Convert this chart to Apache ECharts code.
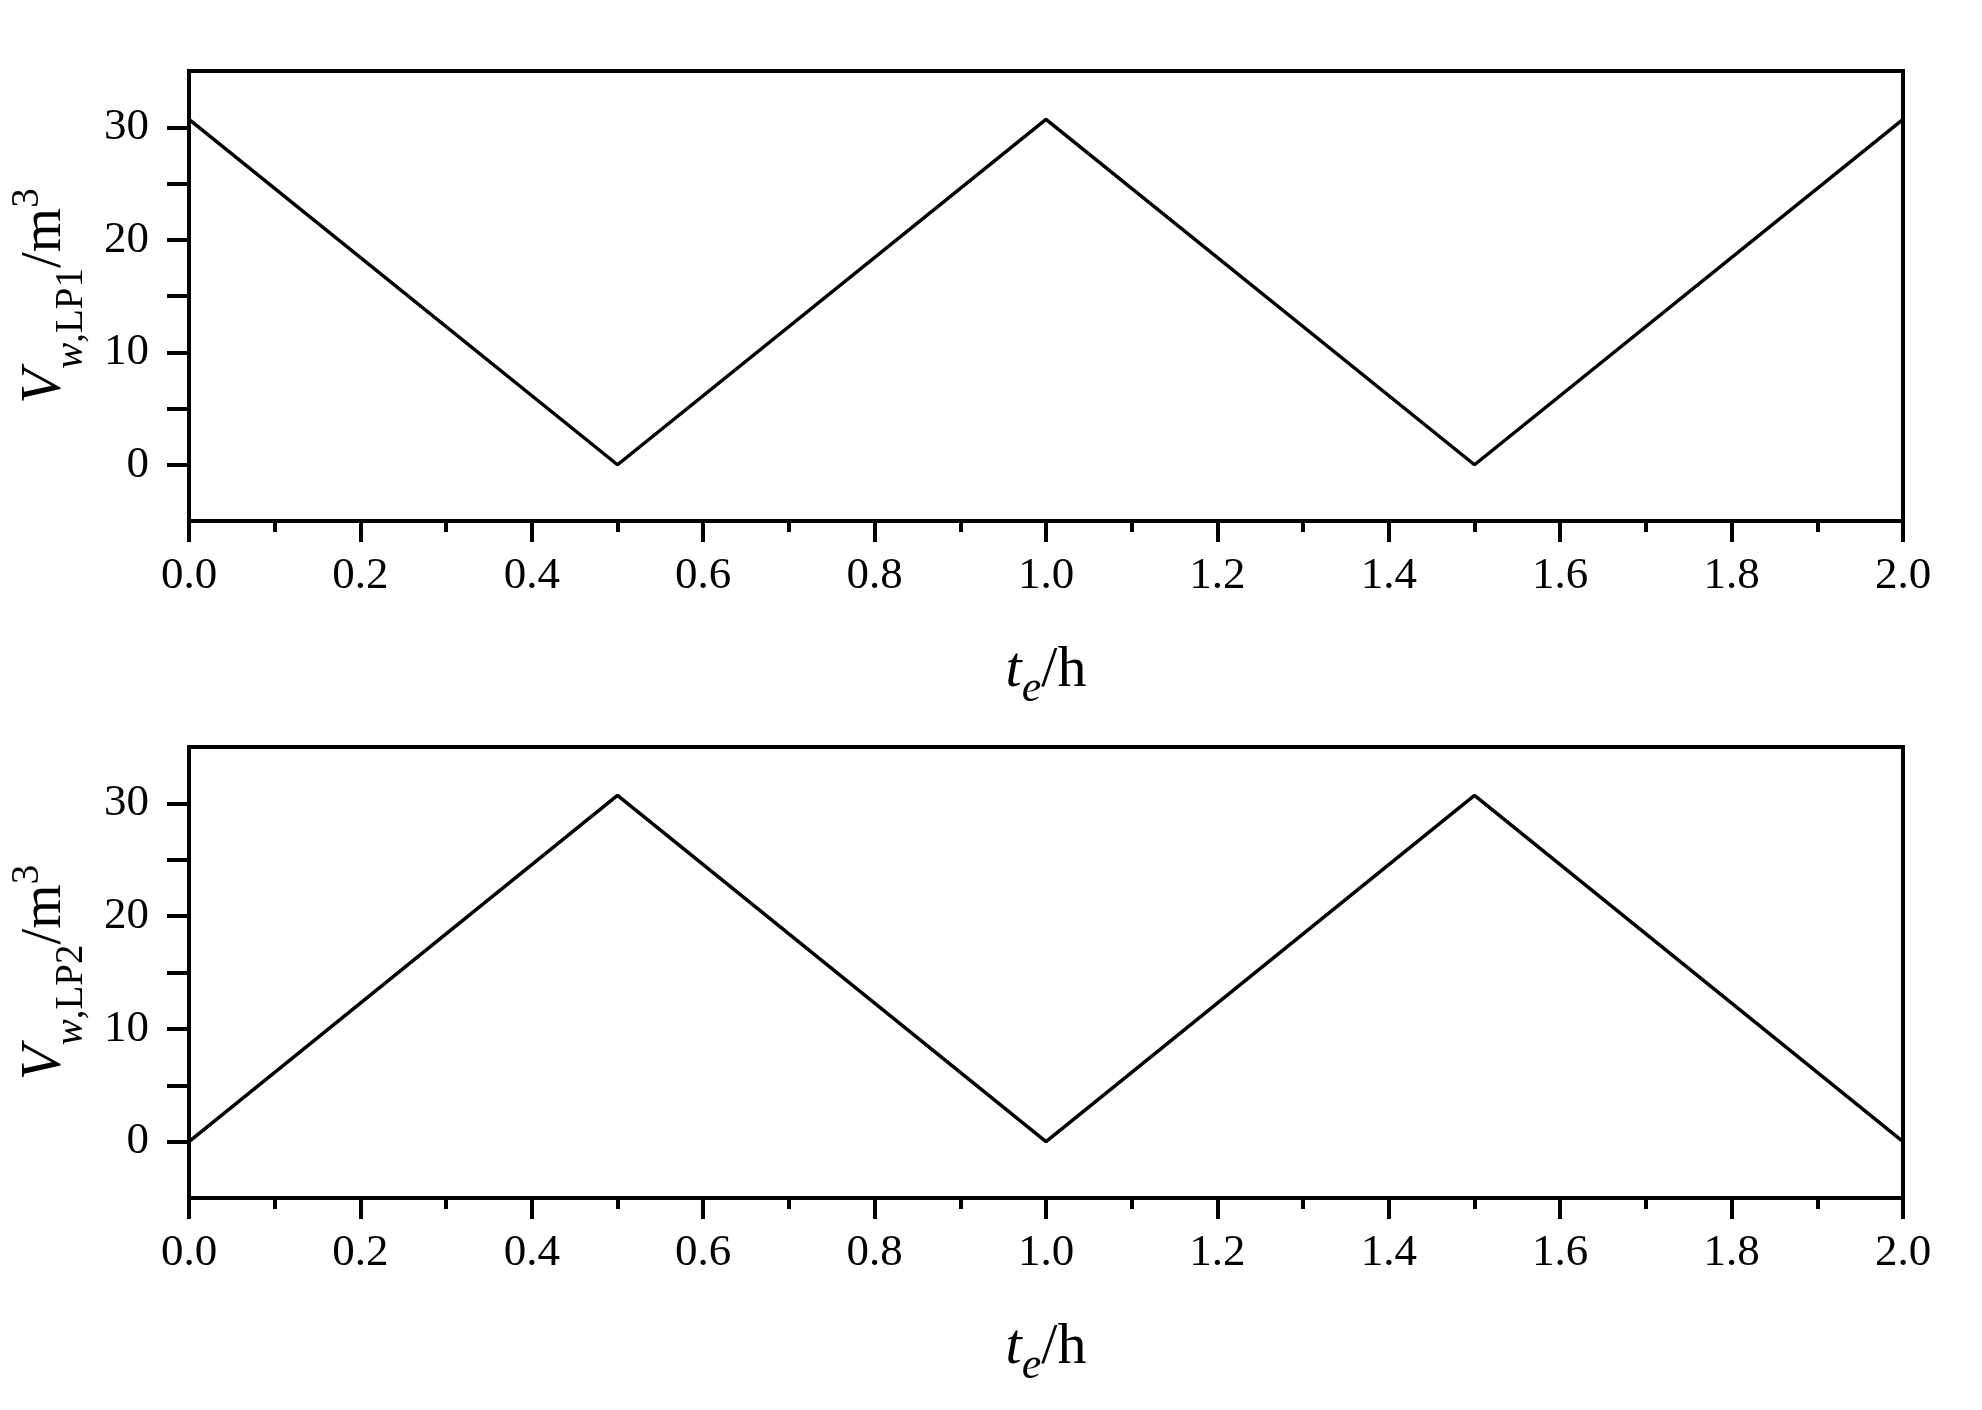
<!DOCTYPE html>
<html>
<head>
<meta charset="utf-8">
<script src="https://cdn.jsdelivr.net/npm/echarts@6/dist/echarts.min.js"></script>
<style>html,body{margin:0;padding:0;background:#fff}#c{width:1982px;height:1410px}</style>
</head>
<body>
<div id="c"></div>
<script>
// Data
const tHours = [0, 0.5, 1.0, 1.5, 2.0];
const vLP1 = [30.7, 0, 30.7, 0, 30.7];
const vLP2 = [0, 30.7, 0, 30.7, 0];
const yTickValues = [0, 5, 10, 15, 20, 25, 30];
const yLabelValues = [0, 10, 20, 30];

const FONT = "Liberation Serif";
const chart = echarts.init(document.getElementById('c'));

function pairs(xs, ys) { return xs.map((x, i) => [x, ys[i]]); }

const axisLineStyle = { color: '#000', width: 4 };

function xAxisCfg(idx) {
  return {
    type: 'value', gridIndex: idx, min: 0, max: 2, interval: 0.2,
    axisLine: { show: true, onZero: false, lineStyle: axisLineStyle },
    axisTick: { show: true, inside: false, length: 21, lineStyle: { color: '#000', width: 4 } },
    minorTick: { show: true, splitNumber: 2, length: 11, lineStyle: { color: '#000', width: 4 } },
    splitLine: { show: false }, minorSplitLine: { show: false },
    axisLabel: { color: '#000', fontFamily: FONT, fontSize: 45, margin: 33,
      formatter: v => v.toFixed(1) },
    name: '{t|t}{e|e}{n|/h}',
    nameLocation: 'middle', nameGap: 110,
    nameTextStyle: {
      rich: {
        t: { fontFamily: FONT, fontSize: 58, fontStyle: 'italic', color: '#000' },
        e: { fontFamily: FONT, fontSize: 44, fontStyle: 'italic', color: '#000', padding: [36, 0, 0, 0] },
        n: { fontFamily: FONT, fontSize: 58, color: '#000' }
      }
    }
  };
}

function yAxisCfg(idx, sub) {
  return {
    type: 'value', gridIndex: idx, min: -5, max: 35,
    axisLine: { show: true, onZero: false, lineStyle: axisLineStyle },
    axisTick: { show: true, inside: false, length: 22, customValues: yTickValues,
      lineStyle: { color: '#000', width: 4 } },
    splitLine: { show: false },
    axisLabel: { color: '#000', fontFamily: FONT, fontSize: 45, margin: 40,
      customValues: yLabelValues },
    name: '{v|V}{s|w}{r|,' + sub + '}{n|/m}{p|3}',
    nameLocation: 'middle', nameGap: 98, nameRotate: 90,
    nameTextStyle: {
      rich: {
        v: { fontFamily: FONT, fontSize: 57, fontStyle: 'italic', color: '#000' },
        s: { fontFamily: FONT, fontSize: 39, fontStyle: 'italic', color: '#000', padding: [52, 0, 0, 0] },
        r: { fontFamily: FONT, fontSize: 39, color: '#000', padding: [52, 0, 0, 0] },
        n: { fontFamily: FONT, fontSize: 57, color: '#000' },
        p: { fontFamily: FONT, fontSize: 39, color: '#000', padding: [0, 0, 36, 0] }
      }
    }
  };
}

const option = {
  backgroundColor: '#fff',
  animation: false,
  grid: [
    { left: 188, top: 71, width: 1715, height: 450, show: true, borderColor: '#000', borderWidth: 4, containLabel: false },
    { left: 188, top: 747, width: 1715, height: 451, show: true, borderColor: '#000', borderWidth: 4, containLabel: false }
  ],
  xAxis: [xAxisCfg(0), xAxisCfg(1)],
  yAxis: [yAxisCfg(0, 'LP1'), yAxisCfg(1, 'LP2')],
  series: [
    { type: 'line', xAxisIndex: 0, yAxisIndex: 0, data: pairs(tHours, vLP1), symbol: 'none',
      lineStyle: { color: '#000', width: 3.5 }, z: 3 },
    { type: 'line', xAxisIndex: 1, yAxisIndex: 1, data: pairs(tHours, vLP2), symbol: 'none',
      lineStyle: { color: '#000', width: 3.5 }, z: 3 }
  ]
};
chart.setOption(option);
</script>
</body>
</html>
